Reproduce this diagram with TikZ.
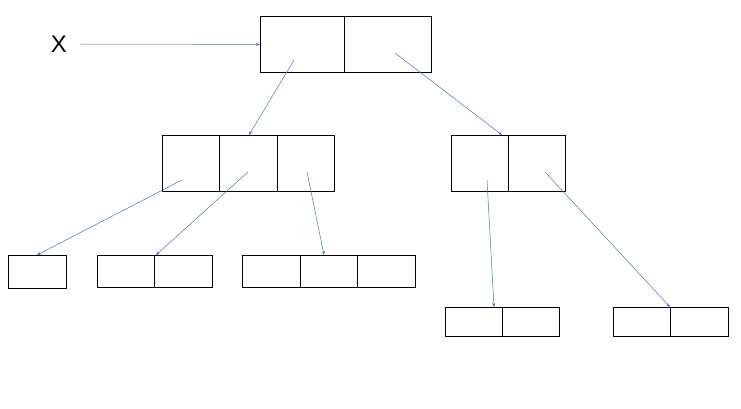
\documentclass[tikz,border=0pt]{standalone}
\usepackage{fontspec}
\setmainfont{Liberation Sans}
\usetikzlibrary{arrows.meta}
\definecolor{ptrblue}{RGB}{68,114,196}
\begin{document}
\begin{tikzpicture}[x=1pt,y=-1pt,
  cell/.style={draw,line width=0.8pt,inner sep=0pt,anchor=north west},
  ptr/.style={draw=ptrblue,line width=0.5pt,-{Stealth[length=4pt,width=3pt]}}]
\useasboundingbox (0,0) rectangle (741,409);
\node[font=\fontsize{24}{26}\selectfont] (x) at (59,44) {X};
% root
\node[cell,minimum width=84pt,minimum height=56pt] (r1) at (260,16) {};
\node[cell,minimum width=87pt,minimum height=56pt] (r2) at (344,16) {};
% level 2 left
\node[cell,minimum width=57pt,minimum height=56pt] (a1) at (162,135) {};
\node[cell,minimum width=58pt,minimum height=56pt] (a2) at (219,135) {};
\node[cell,minimum width=57pt,minimum height=56pt] (a3) at (277,135) {};
% level 2 right
\node[cell,minimum width=57pt,minimum height=56pt] (b1) at (451,135) {};
\node[cell,minimum width=57pt,minimum height=56pt] (b2) at (508,135) {};
% leaves
\node[cell,minimum width=58pt,minimum height=33pt] (l1) at (8,255) {};
\node[cell,minimum width=57pt,minimum height=32pt] (m1) at (97,255) {};
\node[cell,minimum width=58pt,minimum height=32pt] (m2) at (154,255) {};
\node[cell,minimum width=58pt,minimum height=32pt] (n1) at (242,255) {};
\node[cell,minimum width=57pt,minimum height=32pt] (n2) at (300,255) {};
\node[cell,minimum width=58pt,minimum height=32pt] (n3) at (357,255) {};
\node[cell,minimum width=57pt,minimum height=29pt] (p1) at (445,307) {};
\node[cell,minimum width=57pt,minimum height=29pt] (p2) at (502,307) {};
\node[cell,minimum width=57pt,minimum height=29pt] (q1) at (613,307) {};
\node[cell,minimum width=58pt,minimum height=29pt] (q2) at (670,307) {};
% pointer origins and targets
\coordinate (sx) at (80,44);
\coordinate (s1) at (294,60); \coordinate (t1) at (249,135);
\coordinate (s2) at (395,53); \coordinate (t2) at (502,135);
\coordinate (s3) at (182,180); \coordinate (t3) at (37,255);
\coordinate (s4) at (248,172); \coordinate (t4) at (156,255);
\coordinate (s5) at (307,172); \coordinate (t5) at (324,255);
\coordinate (s6) at (487,180); \coordinate (t6) at (494,307);
\coordinate (s7) at (545,172); \coordinate (t7) at (670,307);
\draw[ptr] (sx) -- (r1.west);
\draw[ptr] (s1) -- (t1);
\draw[ptr] (s2) -- (t2);
\draw[ptr] (s3) -- (t3);
\draw[ptr] (s4) -- (t4);
\draw[ptr] (s5) -- (t5);
\draw[ptr] (s6) -- (t6);
\draw[ptr] (s7) -- (t7);
\end{tikzpicture}
\end{document}
